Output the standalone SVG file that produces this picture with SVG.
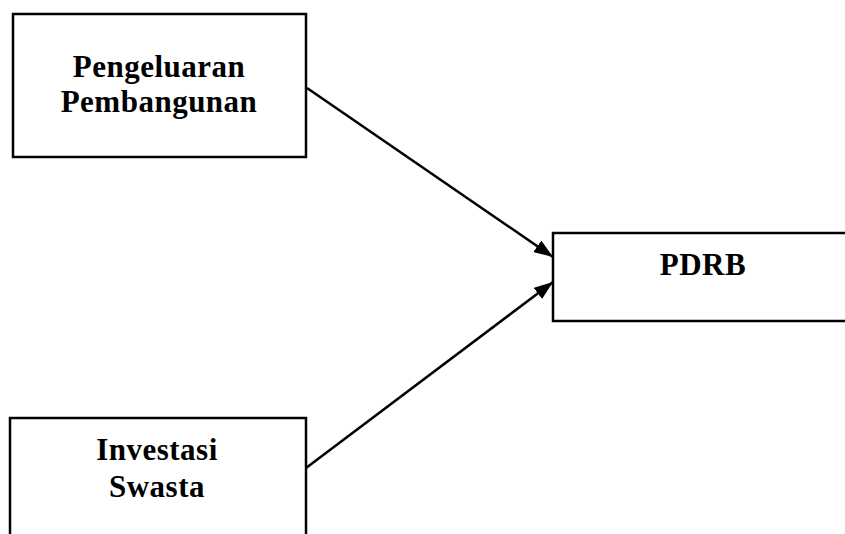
<svg xmlns="http://www.w3.org/2000/svg" width="845" height="534" viewBox="0 0 845 534">
<style>
.box{fill:#fff;stroke:#000;stroke-width:2.5}
.lbl{font-family:"Liberation Serif","Times New Roman",serif;font-weight:bold;font-size:31px;fill:#000;text-anchor:middle;letter-spacing:0.5px}
.edge{stroke:#000;stroke-width:2.5;fill:none;marker-end:url(#ah)}
</style>
<defs>
<marker id="ah" markerWidth="19" markerHeight="14" refX="19" refY="7" orient="auto" markerUnits="userSpaceOnUse">
<path d="M0,0 L19,7 L0,14 Z" fill="#000"/>
</marker>
</defs>
<rect width="845" height="534" fill="#fff"/>
<g id="connectors">
<line class="edge" x1="307" y1="88" x2="553" y2="257"/>
<line class="edge" x1="306" y1="468" x2="553" y2="282"/>
</g>
<g id="node-pengeluaran">
<rect class="box" x="13" y="14" width="293" height="143"/>
<text class="lbl" x="159" y="77">Pengeluaran</text>
<text class="lbl" x="159" y="112">Pembangunan</text>
</g>
<g id="node-pdrb">
<rect class="box" x="553" y="233" width="300" height="88"/>
<text class="lbl" x="703" y="275">PDRB</text>
</g>
<g id="node-investasi">
<rect class="box" x="10" y="418" width="296" height="130"/>
<text class="lbl" x="157" y="460">Investasi</text>
<text class="lbl" x="157" y="497">Swasta</text>
</g>
</svg>
